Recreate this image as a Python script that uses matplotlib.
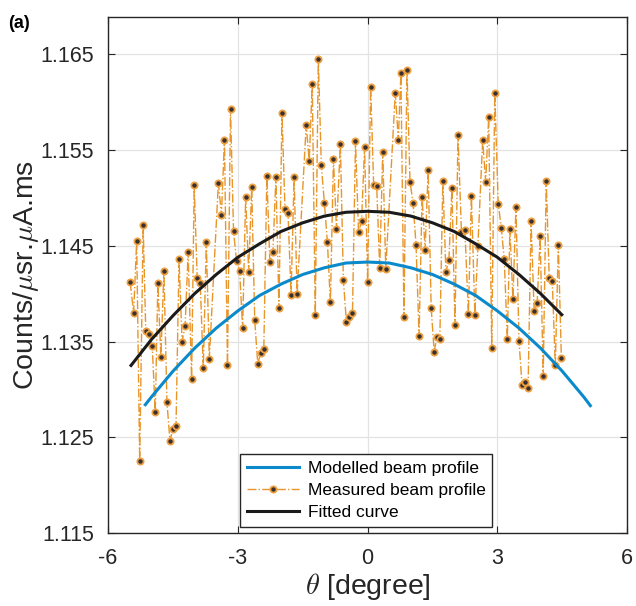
import matplotlib
matplotlib.use("Agg")
import matplotlib.pyplot as plt

plt.rcParams['font.family'] = ['Liberation Sans', 'DejaVu Sans']
plt.rcParams['mathtext.fontset'] = 'cm'

# Measured beam profile (theta in degrees, counts)
theta_meas = [-5.49, -5.41, -5.34, -5.27, -5.19, -5.13, -5.05, -4.98, -4.91, -4.85,
              -4.78, -4.71, -4.64, -4.57, -4.50, -4.43, -4.36, -4.29, -4.22, -4.15,
              -4.07, -4.01, -3.94, -3.87, -3.80, -3.73, -3.66, -3.45, -3.38, -3.31,
              -3.24, -3.17, -3.10, -3.03, -2.96, -2.89, -2.82, -2.75, -2.68, -2.61,
              -2.54, -2.47, -2.40, -2.33, -2.26, -2.19, -2.12, -2.05, -1.98, -1.91,
              -1.84, -1.77, -1.70, -1.63, -1.42, -1.35, -1.28, -1.21, -1.14, -1.07,
              -1.00, -0.93, -0.86, -0.79, -0.72, -0.63, -0.56, -0.49, -0.42, -0.35,
              -0.28, -0.21, -0.14, -0.07, 0.00, 0.07, 0.14, 0.21, 0.28, 0.35,
              0.42, 0.64, 0.71, 0.77, 0.84, 0.91, 0.98, 1.05, 1.12, 1.19,
              1.26, 1.33, 1.40, 1.47, 1.54, 1.60, 1.67, 1.74, 1.81, 1.88,
              1.95, 2.02, 2.09, 2.17, 2.25, 2.33, 2.40, 2.48, 2.55, 2.66,
              2.73, 2.80, 2.87, 2.94, 3.02, 3.09, 3.16, 3.23, 3.29, 3.36,
              3.43, 3.50, 3.57, 3.64, 3.71, 3.78, 3.85, 3.92, 3.99, 4.06,
              4.13, 4.20, 4.27, 4.34, 4.41, 4.48]
counts_meas = [1.1412, 1.1380, 1.1455, 1.1225, 1.1472, 1.1361, 1.1358, 1.1345, 1.1276, 1.1411,
               1.1334, 1.1424, 1.1287, 1.1246, 1.1259, 1.1262, 1.1436, 1.1350, 1.1366, 1.1443,
               1.1311, 1.1514, 1.1416, 1.1411, 1.1322, 1.1454, 1.1332, 1.1516, 1.1482, 1.1561,
               1.1325, 1.1593, 1.1465, 1.1434, 1.1424, 1.1364, 1.1501, 1.1423, 1.1511, 1.1372,
               1.1327, 1.1338, 1.1342, 1.1523, 1.1433, 1.1443, 1.1522, 1.1385, 1.1589, 1.1488,
               1.1484, 1.1399, 1.1522, 1.1400, 1.1576, 1.1539, 1.1619, 1.1378, 1.1645, 1.1534,
               1.1495, 1.1454, 1.1391, 1.1541, 1.1467, 1.1556, 1.1414, 1.1370, 1.1376, 1.1380,
               1.1559, 1.1464, 1.1476, 1.1553, 1.1412, 1.1616, 1.1514, 1.1512, 1.1427, 1.1548,
               1.1426, 1.1610, 1.1561, 1.1630, 1.1376, 1.1634, 1.1517, 1.1495, 1.1451, 1.1356,
               1.1501, 1.1446, 1.1529, 1.1385, 1.1339, 1.1355, 1.1353, 1.1518, 1.1423, 1.1435,
               1.1510, 1.1367, 1.1566, 1.1464, 1.1466, 1.1379, 1.1502, 1.1378, 1.1450, 1.1560,
               1.1517, 1.1585, 1.1343, 1.1610, 1.1494, 1.1469, 1.1436, 1.1353, 1.1467, 1.1394,
               1.1491, 1.1351, 1.1305, 1.1308, 1.1301, 1.1476, 1.1382, 1.1390, 1.1460, 1.1314,
               1.1518, 1.1416, 1.1413, 1.1325, 1.1451, 1.1333]

# Modelled beam profile
theta_model = [-5.14, -5.0, -4.5, -4.0, -3.5, -3.0, -2.5, -2.0, -1.5, -1.0, -0.5, 0.0,
               0.5, 1.0, 1.5, 2.0, 2.5, 3.0, 3.5, 4.0, 4.5, 5.0, 5.15]
counts_model = [1.1284, 1.1292, 1.1319, 1.1343, 1.1364, 1.1382, 1.1398, 1.1410, 1.1420, 1.1427, 1.1432, 1.1433,
                1.1432, 1.1427, 1.1420, 1.1410, 1.1398, 1.1382, 1.1364, 1.1343, 1.1319, 1.1292, 1.1283]

# Fitted curve
theta_fit = [-5.47, -5.0, -4.5, -4.0, -3.5, -3.0, -2.5, -2.0, -1.5, -1.0, -0.5, 0.0,
             0.5, 1.0, 1.5, 2.0, 2.5, 3.0, 3.5, 4.0, 4.49]
counts_fit = [1.1325, 1.1352, 1.1377, 1.1400, 1.1420, 1.1438, 1.1452, 1.1465, 1.1474, 1.1481, 1.1485, 1.1486,
              1.1485, 1.1481, 1.1474, 1.1465, 1.1452, 1.1438, 1.1420, 1.1400, 1.1378]

xticks = [-6, -3, 0, 3, 6]
yticks = [1.115, 1.125, 1.135, 1.145, 1.155, 1.165]

fig = plt.figure(figsize=(6.36, 6.06), dpi=100)
ax = fig.add_axes([0.170, 0.1205, 0.816, 0.8515])

ax.plot(theta_model, counts_model, color='#0a8acb', lw=2.2, label='Modelled beam profile', zorder=3)
ax.plot(theta_meas, counts_meas, color='#e8952a', lw=1.0, ls='-.', marker='o', markersize=4.5,
        markerfacecolor='#3a3030', markeredgecolor='#eda040', markeredgewidth=1.3,
        label='Measured beam profile', zorder=2)
ax.plot(theta_fit, counts_fit, color='#1a1a1a', lw=2.2, label='Fitted curve', zorder=4)

ax.set_xlim(-6, 6)
ax.set_ylim(1.115, 1.1689)
ax.set_xticks(xticks)
ax.set_xticklabels([str(t) for t in xticks])
ax.set_yticks(yticks)
ax.set_yticklabels([f"{t:.3f}" for t in yticks])
ax.grid(True, color='#e3e3e3', lw=0.9)
ax.set_axisbelow(True)
ax.tick_params(direction='in', top=True, right=True, length=5, width=0.8,
               labelsize=15.5, colors='#262626')
ax.tick_params(axis='y', pad=10)
ax.tick_params(axis='x', pad=11)
for s in ax.spines.values():
    s.set_color('#262626')
    s.set_linewidth(1.0)

ax.set_xlabel(r'$\theta$ [degree]', fontsize=20.5, color='#262626', labelpad=1)
ax.set_ylabel(r'Counts/$\mu$sr.$\mu$A.ms', fontsize=20.5, color='#262626', labelpad=0)

leg = ax.legend(loc='lower left', bbox_to_anchor=(0.254, 0.012), borderaxespad=0,
                fontsize=12.5, handlelength=3.0, fancybox=False, framealpha=1,
                edgecolor='#262626', labelspacing=0.4, handletextpad=0.5)
leg.get_frame().set_linewidth(1.0)

fig.text(0.012, 0.975, '(a)', fontsize=13, fontweight='bold', va='top', ha='left')

fig.savefig('out.png', dpi=100)
